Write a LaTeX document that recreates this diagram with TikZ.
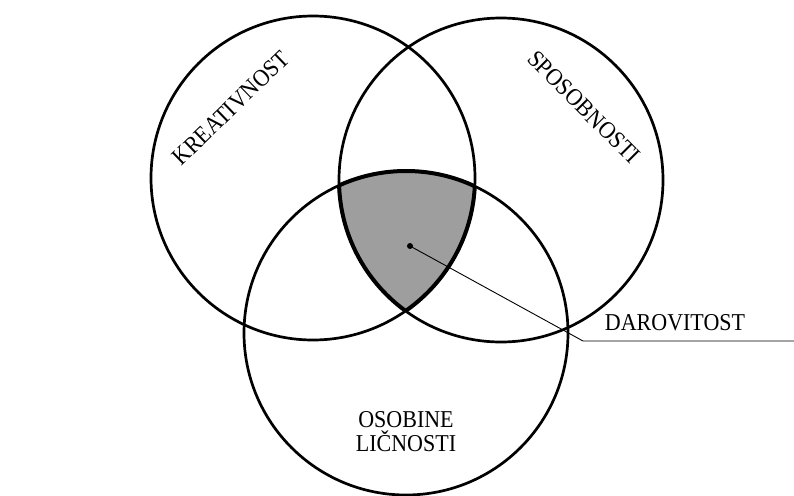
\documentclass[tikz,border=0pt]{standalone}
\usepackage{fontspec}
\usepackage{graphicx}
\setmainfont{Liberation Serif}
\newcommand{\tallt}[1]{\scalebox{1}[1.1]{#1}}
\begin{document}
\begin{tikzpicture}[x=1pt,y=-1pt,
  ring/.style={line width=2.7pt},
  core/.style={line width=4pt},
  lbl/.style={font=\fontsize{22}{24}\selectfont, inner sep=0pt, align=center}]
\useasboundingbox (0,0) rectangle (794,495);
\coordinate (cK) at (313,178);
\coordinate (cS) at (501,180);
\coordinate (cO) at (406,333);
% shaded intersection
\begin{scope}
  \clip (cK) circle[radius=162pt];
  \clip (cS) circle[radius=162pt];
  \fill[black!38] (cO) circle[radius=162pt];
\end{scope}
% circles
\draw[ring] (cK) circle[radius=162pt];
\draw[ring] (cS) circle[radius=162pt];
\draw[ring] (cO) circle[radius=162pt];
% thicker border of core
\begin{scope}
  \clip (cS) circle[radius=162pt];
  \clip (cO) circle[radius=162pt];
  \draw[core] (cK) circle[radius=162pt];
\end{scope}
\begin{scope}
  \clip (cK) circle[radius=162pt];
  \clip (cO) circle[radius=162pt];
  \draw[core] (cS) circle[radius=162pt];
\end{scope}
\begin{scope}
  \clip (cK) circle[radius=162pt];
  \clip (cS) circle[radius=162pt];
  \draw[core] (cO) circle[radius=162pt];
\end{scope}
% labels
\node[lbl, rotate=44] (kr) at (231,108) {\tallt{KREATIVNOST}};
\node[lbl, rotate=-45] (sp) at (584,107) {\tallt{SPOSOBNOSTI}};
\node[lbl] (os) at (406,432) {\tallt{OSOBINE}\\\tallt{LIČNOSTI}};
\node[lbl] (da) at (675,323) {\tallt{DAROVITOST}};
% leader
\coordinate (dot) at (410,246);
\coordinate (bend) at (583,341);
\coordinate (lend) at (794,341);
\fill (dot) circle[radius=3pt];
\draw[line width=0.9pt] (dot) -- (bend) -- (lend);
\end{tikzpicture}
\end{document}
